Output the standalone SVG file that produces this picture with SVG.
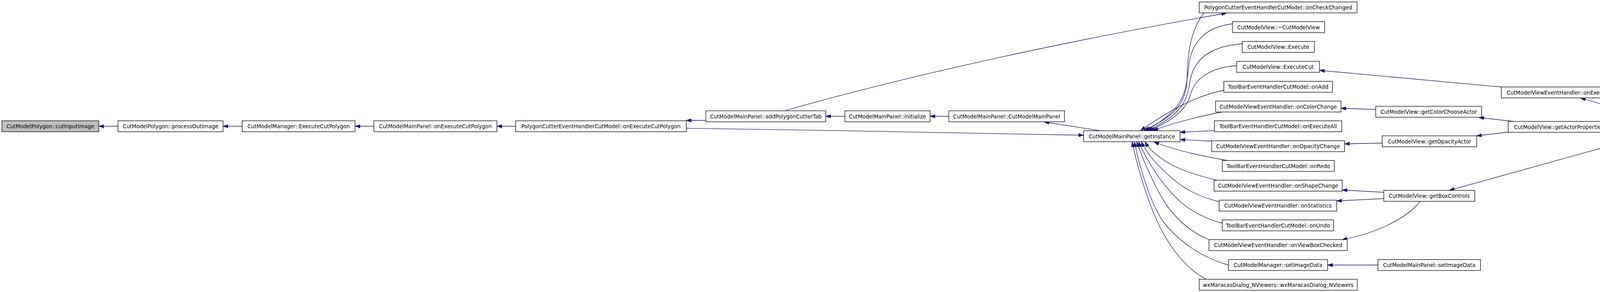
<svg xmlns="http://www.w3.org/2000/svg" width="4416" height="747" viewBox="0 0 4416 747">
<style>
.node rect{fill:#fff;stroke:#000;stroke-width:1.3}
.root rect{fill:#bfbfbf}
.node text{font-family:"DejaVu Sans","Liberation Sans",sans-serif;font-size:13.5px;text-anchor:middle;fill:#000}
#edges path{fill:none;stroke:#191970;stroke-width:1.3;marker-end:url(#arr)}
</style>
<defs>
<marker id="arr" markerUnits="userSpaceOnUse" markerWidth="13" markerHeight="9" viewBox="0 0 13 9" refX="13" refY="4.5" orient="auto">
<path d="M0,0 L13,4.5 L0,9 z" fill="#191970" stroke="#191970" stroke-width="1"/>
</marker>
</defs>
<rect width="4416" height="747" fill="#fff"/>
<g id="edges">
<path d="M302,323 L253,323"/>
<path d="M620,323 L571,323"/>
<path d="M957,323 L909,323"/>
<path d="M1320,323 L1272,323"/>
<path d="M1807,308 L1757,308"/>
<path d="M1757,328 C2100,333 2500,340 2774,346"/>
<path d="M2163,297.5 L2114,297.5"/>
<path d="M2429,297.5 L2381,297.5"/>
<path d="M2814,334 L2673,312"/>
<path d="M2010,283 C2300,200 2700,110 3140,33.5"/>
<path d="M3082,33 C3050,75 3040,130 3039,200 C3038,270 3000,300 2928,334"/>
<path d="M3155,61 C3090,68 3050,105 3043,170 C3036,240 3030,280 2933,334"/>
<path d="M3180,112 C3100,118 3055,150 3046,210 C3038,265 3020,295 2938,334"/>
<path d="M3166,168 C3100,172 3060,200 3048,240 C3040,275 3010,305 2943,334"/>
<path d="M3133,231 C3060,245 2990,285 2920,334"/>
<path d="M3130,286 C3060,300 3000,315 2952,334"/>
<path d="M3109,334 L3021,338.5"/>
<path d="M3102,361 L3021,357"/>
<path d="M3144,411 C3080,400 3010,385 2954,363"/>
<path d="M3115,461 C3060,448 3010,430 2980,410 C2955,393 2940,380 2932,363"/>
<path d="M3121,516 C3070,503 3035,485 3005,460 C2970,430 2940,400 2922,363"/>
<path d="M3129,571 C3080,558 3040,535 3010,505 C2970,465 2935,410 2915,363"/>
<path d="M3095,613 C3060,600 3020,570 2990,530 C2965,495 2930,420 2910,363"/>
<path d="M3145,678 C3080,660 3020,620 2980,570 C2950,530 2920,440 2904,363"/>
<path d="M3089,715 C3040,690 3000,640 2969,580 C2940,520 2915,440 2898,363"/>
<path d="M3522,280 L3433,277"/>
<path d="M3538.5,366 L3442,368"/>
<path d="M3543,492 L3436,486"/>
<path d="M3543,508 L3422,514"/>
<path d="M3636,515 C3600,560 3520,598 3436,613"/>
<path d="M3527.5,678 L3398.5,678"/>
<path d="M3843.5,222.5 L3378,180"/>
<path d="M3874,310.5 L3786,300.5"/>
<path d="M3861,338 L3780,347.5"/>
<path d="M4186,324.5 L4120.5,324.5"/>
<path d="M4249.5,310.5 L4046,250.5"/>
<path d="M4245,338.5 L3710,487"/>
</g>
<g id="n_cutInputImage" class="node root"><rect x="5" y="309" width="248" height="28"/><text x="129" y="328">CutModelPolygon::cutInputImage</text></g>
<g id="n_processOutImage" class="node"><rect x="302" y="309" width="269" height="28"/><text x="436.5" y="328">CutModelPolygon::processOutImage</text></g>
<g id="n_ExecuteCutPolygon" class="node"><rect x="620" y="309" width="289" height="28"/><text x="764.5" y="328">CutModelManager::ExecuteCutPolygon</text></g>
<g id="n_mp_onExecuteCutPolygon" class="node"><rect x="957" y="309" width="315" height="28"/><text x="1114.5" y="328">CutModelMainPanel::onExecuteCutPolygon</text></g>
<g id="n_pc_onExecuteCutPolygon" class="node"><rect x="1320" y="309" width="437" height="28"/><text x="1538.5" y="328">PolygonCutterEventHandlerCutModel::onExecuteCutPolygon</text></g>
<g id="n_addPolygonCutterTab" class="node"><rect x="1807" y="283.5" width="307" height="28"/><text x="1960.5" y="302.5">CutModelMainPanel::addPolygonCutterTab</text></g>
<g id="n_initialize" class="node"><rect x="2163" y="283.5" width="218" height="28"/><text x="2272" y="302.5">CutModelMainPanel::initialize</text></g>
<g id="n_CutModelMainPanel" class="node"><rect x="2429" y="283.5" width="296" height="28"/><text x="2577" y="302.5">CutModelMainPanel::CutModelMainPanel</text></g>
<g id="n_getInstance" class="node"><rect x="2774" y="334.5" width="247" height="28"/><text x="2897.5" y="353.5">CutModelMainPanel::getInstance</text></g>
<g id="n_onCheckChanged" class="node"><rect x="3070" y="5" width="404" height="28"/><text x="3272" y="24">PolygonCutterEventHandlerCutModel::onCheckChanged</text></g>
<g id="n_dtorCutModelView" class="node"><rect x="3155" y="55.5" width="236" height="28"/><text x="3273" y="74.5">CutModelView::~CutModelView</text></g>
<g id="n_Execute" class="node"><rect x="3180" y="106" width="185" height="28"/><text x="3272.5" y="125">CutModelView::Execute</text></g>
<g id="n_ExecuteCut" class="node"><rect x="3166" y="157" width="212" height="28"/><text x="3272" y="176">CutModelView::ExecuteCut</text></g>
<g id="n_onAdd" class="node"><rect x="3133" y="208" width="278" height="28"/><text x="3272" y="227">ToolBarEventHandlerCutModel::onAdd</text></g>
<g id="n_onColorChange" class="node"><rect x="3112" y="258.5" width="321" height="28"/><text x="3272.5" y="277.5">CutModelViewEventHandler::onColorChange</text></g>
<g id="n_onExecuteAll" class="node"><rect x="3109" y="309" width="326" height="28"/><text x="3272" y="328">ToolBarEventHandlerCutModel::onExecuteAll</text></g>
<g id="n_onOpacityChange" class="node"><rect x="3102" y="360" width="340" height="28"/><text x="3272" y="379">CutModelViewEventHandler::onOpacityChange</text></g>
<g id="n_onRedo" class="node"><rect x="3129" y="410.5" width="287" height="28"/><text x="3272.5" y="429.5">ToolBarEventHandlerCutModel::onRedo</text></g>
<g id="n_onShapeChange" class="node"><rect x="3108" y="461" width="328" height="28"/><text x="3272" y="480">CutModelViewEventHandler::onShapeChange</text></g>
<g id="n_onStatistics" class="node"><rect x="3121" y="512" width="301" height="28"/><text x="3271.5" y="531">CutModelViewEventHandler::onStatistics</text></g>
<g id="n_onUndo" class="node"><rect x="3129" y="562.5" width="285" height="28"/><text x="3271.5" y="581.5">ToolBarEventHandlerCutModel::onUndo</text></g>
<g id="n_onViewBoxChecked" class="node"><rect x="3095" y="613" width="354" height="28"/><text x="3272" y="632">CutModelViewEventHandler::onViewBoxChecked</text></g>
<g id="n_mgr_setImageData" class="node"><rect x="3145" y="664" width="253.5" height="28"/><text x="3271.75" y="683">CutModelManager::setImageData</text></g>
<g id="n_wxMaracas" class="node"><rect x="3070" y="714.5" width="404.5" height="28"/><text x="3272.25" y="733.5">wxMaracasDialog_NViewers::wxMaracasDialog_NViewers</text></g>
<g id="n_getColorChooseActor" class="node"><rect x="3522" y="272" width="271" height="28"/><text x="3657.5" y="291">CutModelView::getColorChooseActor</text></g>
<g id="n_getOpacityActor" class="node"><rect x="3538.5" y="347.5" width="242" height="28"/><text x="3659.5" y="366.5">CutModelView::getOpacityActor</text></g>
<g id="n_getBoxControls" class="node"><rect x="3542.5" y="487" width="233" height="28"/><text x="3659" y="506">CutModelView::getBoxControls</text></g>
<g id="n_mp_setImageData" class="node"><rect x="3527.5" y="664" width="262.5" height="28"/><text x="3658.75" y="683">CutModelMainPanel::setImageData</text></g>
<g id="n_onExecute" class="node"><rect x="3843.5" y="222.5" width="295" height="28"/><text x="3991" y="241.5">CutModelViewEventHandler::onExecute</text></g>
<g id="n_getActorProperties" class="node"><rect x="3861" y="310.5" width="259.5" height="28"/><text x="3990.75" y="329.5">CutModelView::getActorProperties</text></g>
<g id="n_CutModelView" class="node"><rect x="4186.5" y="310.5" width="223.5" height="28"/><text x="4298.25" y="329.5">CutModelView::CutModelView</text></g>
</svg>
